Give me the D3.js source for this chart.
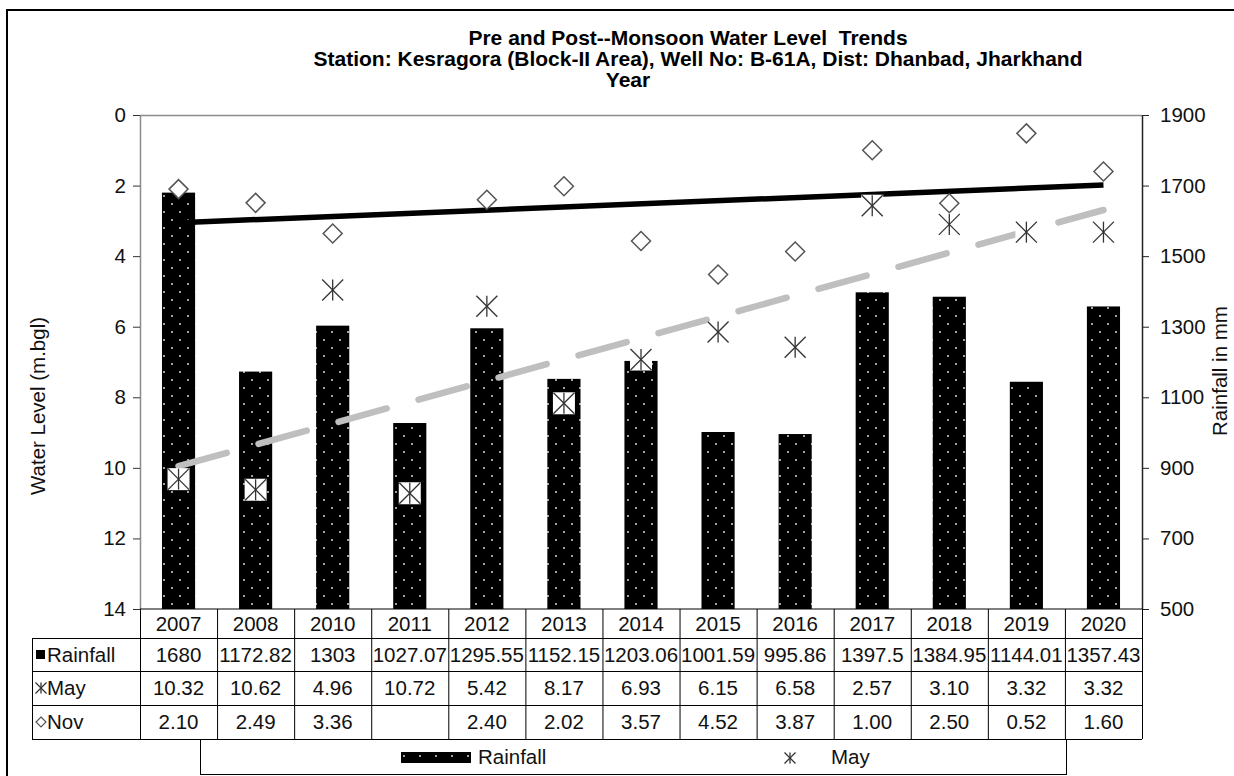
<!DOCTYPE html>
<html><head><meta charset="utf-8">
<script src="https://cdn.jsdelivr.net/npm/d3@7"></script>
<style>body{margin:0;background:#fff;overflow:hidden;} svg{display:block;font-family:"Liberation Sans",Arial,sans-serif;}</style>
</head><body><svg id="c" width="1234" height="776"></svg>
<script>
const years = ["2007","2008","2010","2011","2012","2013","2014","2015","2016","2017","2018","2019","2020"];
const rainfall = [1680,1172.82,1303,1027.07,1295.55,1152.15,1203.06,1001.59,995.86,1397.5,1384.95,1144.01,1357.43];
const may = [10.32,10.62,4.96,10.72,5.42,8.17,6.93,6.15,6.58,2.57,3.10,3.32,3.32];
const nov = [2.10,2.49,3.36,null,2.40,2.02,3.57,4.52,3.87,1.00,2.50,0.52,1.60];
const leftTicks = [0,2,4,6,8,10,12,14];
const rightTicks = [500,700,900,1100,1300,1500,1700,1900];
const titleLines = ["Pre and Post--Monsoon Water Level  Trends","Station: Kesragora (Block-II Area), Well No: B-61A, Dist: Dhanbad, Jharkhand"];
const xTitle = "Year";
const yLeftTitle = "Water Level (m.bgl)";
const yRightTitle = "Rainfall in mm";

const svg = d3.select("#c");
const FS = 20.5;
const TFS = 21;
const m = {l:140, r:1142, t:115, b:609};
const x = d3.scaleBand().domain(years).range([m.l, m.r]).padding(0);
const yL = d3.scaleLinear().domain([0,14]).range([m.t, m.b]);
const yR = d3.scaleLinear().domain([500,1900]).range([m.b, m.t]);
const cx = d => x(d) + x.bandwidth()/2;
const bw = x.bandwidth()*0.43;

// pattern
const defs = svg.append("defs");
const pat = defs.append("pattern").attr("id","dots").attr("patternUnits","userSpaceOnUse").attr("width",16).attr("height",16);
pat.append("rect").attr("width",16).attr("height",16).attr("fill","#000");
pat.append("circle").attr("cx",4).attr("cy",4).attr("r",1).attr("fill","#d8d8d8");
pat.append("circle").attr("cx",12).attr("cy",12).attr("r",1).attr("fill","#d8d8d8");

// outer border (top and left only visible)
svg.append("line").attr("x1",6).attr("x2",1234).attr("y1",10).attr("y2",10).attr("stroke","#000").attr("stroke-width",2);
svg.append("line").attr("x1",7).attr("x2",7).attr("y1",9).attr("y2",776).attr("stroke","#000").attr("stroke-width",2);

// titles
const tY = [45, 66];
const tX = [688, 698];
titleLines.forEach((t,i)=>{
  svg.append("text").attr("x",tX[i]).attr("y",tY[i]).attr("text-anchor","middle").attr("font-weight","bold").attr("font-size",TFS).attr("fill","#000").style("white-space","pre").text(t);
});
svg.append("text").attr("x",628).attr("y",87).attr("text-anchor","middle").attr("font-weight","bold").attr("font-size",TFS).text(xTitle);

// plot top border
svg.append("line").attr("x1",m.l).attr("x2",m.r).attr("y1",m.t+0.5).attr("y2",m.t+0.5).attr("stroke","#8c8c8c").attr("stroke-width",1.5);

// bars
svg.append("g").selectAll("rect").data(years).join("rect")
  .attr("x",d=>cx(d)-bw/2).attr("width",bw)
  .attr("y",(d,i)=>yR(rainfall[i])).attr("height",(d,i)=>m.b-yR(rainfall[i]))
  .attr("fill","url(#dots)");

// trend lines (least squares on category index)
function trend(vals){
  const pts = vals.map((v,i)=>[i+1,v]).filter(p=>p[1]!=null);
  const mx=d3.mean(pts,p=>p[0]), my=d3.mean(pts,p=>p[1]);
  const sxy=d3.sum(pts,p=>(p[0]-mx)*(p[1]-my)), sxx=d3.sum(pts,p=>(p[0]-mx)**2);
  const b=sxy/sxx, a=my-b*mx;
  return [[years[0], a+b*1],[years[years.length-1], a+b*years.length]];
}
const line = d3.line().x(d=>cx(d[0])).y(d=>yL(d[1]));
svg.append("path").attr("d",line(trend(may))).attr("stroke","#bfbfbf").attr("stroke-width",6.5).attr("stroke-linecap","round").attr("stroke-dasharray","50 33").attr("fill","none");
svg.append("path").attr("d",line(trend(nov))).attr("stroke","#000").attr("stroke-width",5.5).attr("fill","none");

// markers
function star(g, s){
  g.append("line").attr("x1",0).attr("x2",0).attr("y1",-s).attr("y2",s);
  g.append("line").attr("x1",-s).attr("x2",s).attr("y1",-s).attr("y2",s);
  g.append("line").attr("x1",-s).attr("x2",s).attr("y1",s).attr("y2",-s);
  g.selectAll("line").attr("stroke","#333").attr("stroke-width",1.3);
}
const mayG = svg.append("g").selectAll("g").data(years).join("g")
  .attr("transform",(d,i)=>`translate(${cx(d)},${yL(may[i])})`);
mayG.append("rect").attr("x",-11).attr("y",-11).attr("width",22).attr("height",22).attr("fill","#fff");
mayG.each(function(){ star(d3.select(this), 10.5); });

svg.append("g").selectAll("path").data(years.filter((d,i)=>nov[i]!=null)).join("path")
  .attr("d","M0,-9.5L9.5,0L0,9.5L-9.5,0Z")
  .attr("transform",d=>`translate(${cx(d)},${yL(nov[years.indexOf(d)])})`)
  .attr("fill","#fff").attr("stroke","#555").attr("stroke-width",1.5);

// axes
const axL = svg.append("g").attr("transform",`translate(${m.l},0)`)
  .call(d3.axisLeft(yL).tickValues(leftTicks).tickFormat(d3.format("d")).tickSize(7).tickSizeOuter(0).tickPadding(7));
axL.select(".domain").attr("stroke","#8c8c8c").attr("stroke-width",1.5);
axL.selectAll(".tick line").attr("stroke","#333");
axL.selectAll("text").attr("font-size",FS).attr("font-family",null).attr("fill","#111");
const axR = svg.append("g").attr("transform",`translate(${m.r},0)`)
  .call(d3.axisRight(yR).tickValues(rightTicks).tickFormat(d3.format("d")).tickSize(7).tickSizeOuter(0).tickPadding(11));
axR.select(".domain").attr("stroke","#222").attr("stroke-width",1.5);
axR.selectAll(".tick line").attr("stroke","#222");
axR.selectAll("text").attr("font-size",FS).attr("font-family",null).attr("fill","#111");

svg.append("text").attr("transform","translate(45,406) rotate(-90)").attr("text-anchor","middle").attr("font-size",FS).attr("fill","#111").text(yLeftTitle);
svg.append("text").attr("transform","translate(1227,371) rotate(-90)").attr("text-anchor","middle").attr("font-size",FS).attr("fill","#111").text(yRightTitle);

// data table
const rowsY = [609,638,671,705,739];
const labX = 32;
const tg = svg.append("g").attr("stroke","#000").attr("stroke-width",1);
tg.append("line").attr("x1",m.l).attr("x2",m.r).attr("y1",rowsY[0]).attr("y2",rowsY[0]);
for(let k=1;k<rowsY.length;k++) tg.append("line").attr("x1",labX).attr("x2",m.r).attr("y1",rowsY[k]+0.5).attr("y2",rowsY[k]+0.5);
tg.append("line").attr("x1",labX+0.5).attr("x2",labX+0.5).attr("y1",rowsY[1]).attr("y2",rowsY[4]);
years.forEach(d=>tg.append("line").attr("x1",x(d)+0.5).attr("x2",x(d)+0.5).attr("y1",rowsY[0]).attr("y2",rowsY[4]));
tg.append("line").attr("x1",m.r+0.5).attr("x2",m.r+0.5).attr("y1",rowsY[0]).attr("y2",rowsY[4]);

const rowMid = k => (rowsY[k]+rowsY[k+1])/2;
const cellText = (xx,yy,t,anchor="middle") => svg.append("text").attr("x",xx).attr("y",yy).attr("dy","0.35em").attr("text-anchor",anchor).attr("font-size",FS).attr("fill","#111").text(t);
years.forEach((d,i)=>{
  cellText(cx(d), rowMid(0), d);
  cellText(cx(d), rowMid(1), String(rainfall[i]));
  cellText(cx(d), rowMid(2), may[i].toFixed(2));
  cellText(cx(d), rowMid(3), nov[i]==null?"":nov[i].toFixed(2));
});
// row labels with keys
svg.append("rect").attr("x",36).attr("y",rowMid(1)-4.5).attr("width",9).attr("height",9).attr("fill","#000");
cellText(47, rowMid(1), "Rainfall", "start");
star(svg.append("g").attr("transform",`translate(41,${rowMid(2)})`), 5.5);
cellText(47, rowMid(2), "May", "start");
svg.append("path").attr("d","M0,-5L5,0L0,5L-5,0Z").attr("transform",`translate(41,${rowMid(3)})`).attr("fill","#fff").attr("stroke","#555").attr("stroke-width",1.2);
cellText(47, rowMid(3), "Nov", "start");

// legend
svg.append("rect").attr("x",200.5).attr("y",739.5).attr("width",866).attr("height",35).attr("fill","none").attr("stroke","#000");
const ly = 757;
svg.append("rect").attr("x",401).attr("y",ly-5).attr("width",70).attr("height",11).attr("fill","url(#dots)");
cellText(478, ly, "Rainfall", "start");
star(svg.append("g").attr("transform",`translate(790,${ly+1})`), 5.5);
cellText(831, ly, "May", "start");
</script></body></html>
